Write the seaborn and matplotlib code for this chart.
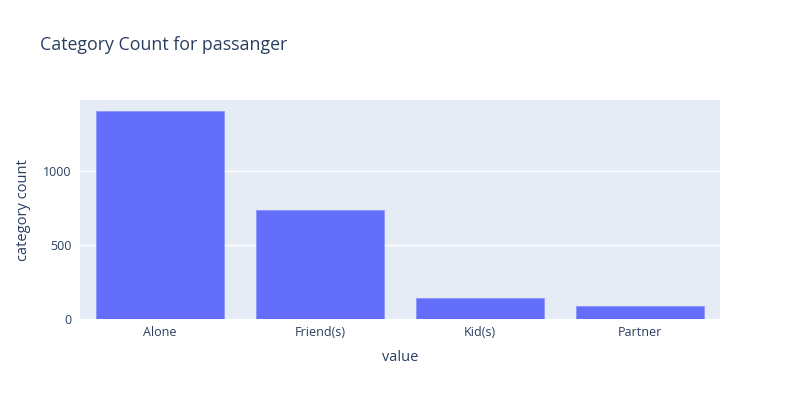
import matplotlib
matplotlib.use("Agg")
import matplotlib.pyplot as plt
import seaborn as sns
import pandas as pd

categories = ["Alone", "Friend(s)", "Kid(s)", "Partner"]
counts = [1402, 735, 146, 92]

df = pd.DataFrame({"value": categories, "category count": counts})

sns.set_style("white")
plt.rcParams["font.family"] = ["Open Sans", "DejaVu Sans"]

text_color = "#2a3f5f"

fig = plt.figure(figsize=(8, 4), dpi=100)
ax = fig.add_axes([0.1, 0.2017, 0.8, 0.5483])
ax.set_facecolor("#e5ecf6")

sns.barplot(data=df, x="value", y="category count", color="#636efa",
            saturation=1, width=0.8, edgecolor="#8d95fb", linewidth=0.6, ax=ax)

ax.set_xlim(-0.5, 3.5)
ax.set_ylim(0, 1479)
ax.set_yticks([0, 500, 1000])
ax.set_yticklabels(["0", "500", "1000"])
ax.grid(axis="y", color="white", linewidth=1)
ax.set_axisbelow(True)
for s in ax.spines.values():
    s.set_visible(False)
ax.tick_params(axis="both", length=0, labelsize=9, labelcolor=text_color)
ax.tick_params(axis="x", pad=5)
ax.tick_params(axis="y", pad=6)

ax.set_xlabel("value", fontsize=10.5, color=text_color, labelpad=8)
ax.set_ylabel("category count", fontsize=10.5, color=text_color, labelpad=9)

fig.text(40 / 800, 1 - 45 / 400, "Category Count for passanger",
         fontsize=12.75, color=text_color, va="center", ha="left")

fig.savefig("out.png", dpi=100)
